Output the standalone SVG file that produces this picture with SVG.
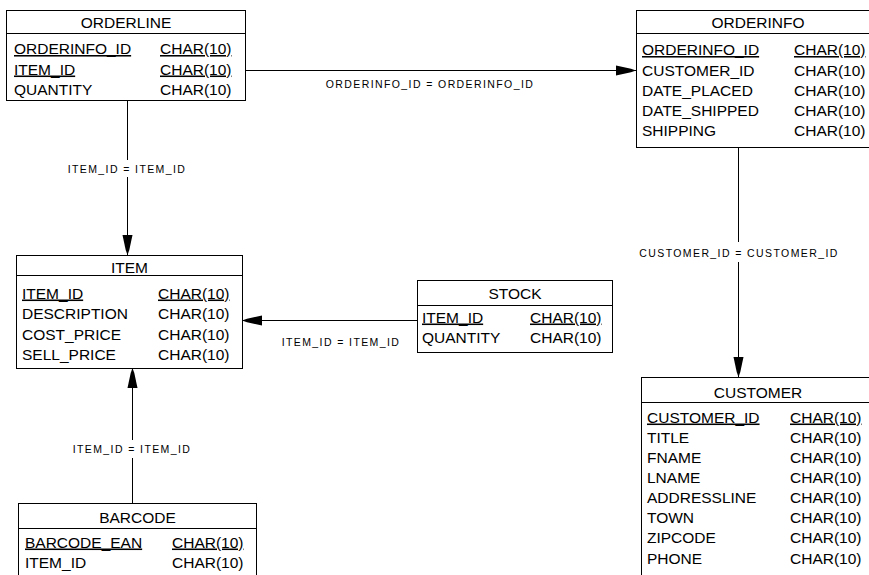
<svg xmlns="http://www.w3.org/2000/svg" width="869" height="575" viewBox="0 0 869 575">
<defs>
<style>
.box{fill:#fff;stroke:#000;stroke-width:1}
.sep{stroke:#000;stroke-width:1}
.t{font-family:"Liberation Sans",Arial,sans-serif;font-size:15.5px;fill:#000}
.h{text-anchor:middle}
.pk{text-decoration:underline}
.conn{fill:none;stroke:#000;stroke-width:1}
.lbl{font-family:"Liberation Sans",Arial,sans-serif;font-size:10.5px;letter-spacing:1.4px;fill:#000;text-anchor:middle}
</style>
<marker id="arr" viewBox="-21 -5.5 22 11" markerWidth="22" markerHeight="11" refX="0" refY="0" orient="auto" markerUnits="userSpaceOnUse">
<path d="M0,0 L-5,-1.8 L-20,-5 L-20,5 L-5,1.8 Z" fill="#000"/>
</marker>
</defs>
<rect width="869" height="575" fill="#fff"/>

<g id="connectors">
<path class="conn" d="M245,70.5 H636" marker-end="url(#arr)"/>
<text class="lbl" x="430" y="88">ORDERINFO_ID = ORDERINFO_ID</text>
<path class="conn" d="M127.5,100 V160 M127.5,177 V255" marker-end="url(#arr)"/>
<text class="lbl" x="127" y="173">ITEM_ID = ITEM_ID</text>
<path class="conn" d="M738.5,147 V242 M738.5,262 V377" marker-end="url(#arr)"/>
<text class="lbl" x="739" y="257">CUSTOMER_ID = CUSTOMER_ID</text>
<path class="conn" d="M417,320.5 H242" marker-end="url(#arr)"/>
<text class="lbl" x="341" y="346">ITEM_ID = ITEM_ID</text>
<path class="conn" d="M132.5,503 V458 M132.5,440 V368" marker-end="url(#arr)"/>
<text class="lbl" x="132" y="453">ITEM_ID = ITEM_ID</text>
</g>

<g id="orderline">
<rect class="box" x="6.5" y="10.5" width="239" height="90"/>
<line class="sep" x1="6.5" y1="33.5" x2="245.5" y2="33.5"/>
<text class="t h" x="126" y="27.5">ORDERLINE</text>
<text class="t pk" x="14" y="54">ORDERINFO_ID</text><text class="t pk" x="160" y="54">CHAR(10)</text>
<text class="t pk" x="14" y="74.5">ITEM_ID</text><text class="t pk" x="160" y="74.5">CHAR(10)</text>
<text class="t" x="14" y="95">QUANTITY</text><text class="t" x="160" y="95">CHAR(10)</text>
</g>

<g id="orderinfo">
<rect class="box" x="636.5" y="10.5" width="243" height="137"/>
<line class="sep" x1="636.5" y1="33.5" x2="879.5" y2="33.5"/>
<text class="t h" x="758" y="27.5">ORDERINFO</text>
<text class="t pk" x="642" y="55">ORDERINFO_ID</text><text class="t pk" x="794" y="55">CHAR(10)</text>
<text class="t" x="642" y="75.5">CUSTOMER_ID</text><text class="t" x="794" y="75.5">CHAR(10)</text>
<text class="t" x="642" y="95.5">DATE_PLACED</text><text class="t" x="794" y="95.5">CHAR(10)</text>
<text class="t" x="642" y="115.5">DATE_SHIPPED</text><text class="t" x="794" y="115.5">CHAR(10)</text>
<text class="t" x="642" y="136">SHIPPING</text><text class="t" x="794" y="136">CHAR(10)</text>
</g>

<g id="item">
<rect class="box" x="16.5" y="255.5" width="226" height="113"/>
<line class="sep" x1="16.5" y1="275.5" x2="242.5" y2="275.5"/>
<text class="t h" x="129.5" y="272.5">ITEM</text>
<text class="t pk" x="22" y="298.5">ITEM_ID</text><text class="t pk" x="158" y="298.5">CHAR(10)</text>
<text class="t" x="22" y="319">DESCRIPTION</text><text class="t" x="158" y="319">CHAR(10)</text>
<text class="t" x="22" y="339.5">COST_PRICE</text><text class="t" x="158" y="339.5">CHAR(10)</text>
<text class="t" x="22" y="360">SELL_PRICE</text><text class="t" x="158" y="360">CHAR(10)</text>
</g>

<g id="stock">
<rect class="box" x="417.5" y="280.5" width="195" height="72"/>
<line class="sep" x1="417.5" y1="305.5" x2="612.5" y2="305.5"/>
<text class="t h" x="515" y="298.5">STOCK</text>
<text class="t pk" x="422" y="322.5">ITEM_ID</text><text class="t pk" x="530" y="322.5">CHAR(10)</text>
<text class="t" x="422" y="342.5">QUANTITY</text><text class="t" x="530" y="342.5">CHAR(10)</text>
</g>

<g id="customer">
<rect class="box" x="641.5" y="377.5" width="233" height="210"/>
<line class="sep" x1="641.5" y1="402.5" x2="874.5" y2="402.5"/>
<text class="t h" x="758" y="397.5">CUSTOMER</text>
<text class="t pk" x="647" y="422.5">CUSTOMER_ID</text><text class="t pk" x="790" y="422.5">CHAR(10)</text>
<text class="t" x="647" y="442.5">TITLE</text><text class="t" x="790" y="442.5">CHAR(10)</text>
<text class="t" x="647" y="462.5">FNAME</text><text class="t" x="790" y="462.5">CHAR(10)</text>
<text class="t" x="647" y="482.5">LNAME</text><text class="t" x="790" y="482.5">CHAR(10)</text>
<text class="t" x="647" y="503">ADDRESSLINE</text><text class="t" x="790" y="503">CHAR(10)</text>
<text class="t" x="647" y="523">TOWN</text><text class="t" x="790" y="523">CHAR(10)</text>
<text class="t" x="647" y="543">ZIPCODE</text><text class="t" x="790" y="543">CHAR(10)</text>
<text class="t" x="647" y="563.5">PHONE</text><text class="t" x="790" y="563.5">CHAR(10)</text>
</g>

<g id="barcode">
<rect class="box" x="18.5" y="503.5" width="238" height="90"/>
<line class="sep" x1="18.5" y1="528.5" x2="256.5" y2="528.5"/>
<text class="t h" x="137.5" y="522.5">BARCODE</text>
<text class="t pk" x="25" y="547.5">BARCODE_EAN</text><text class="t pk" x="172" y="547.5">CHAR(10)</text>
<text class="t" x="25" y="567.5">ITEM_ID</text><text class="t" x="172" y="567.5">CHAR(10)</text>
</g>
</svg>
